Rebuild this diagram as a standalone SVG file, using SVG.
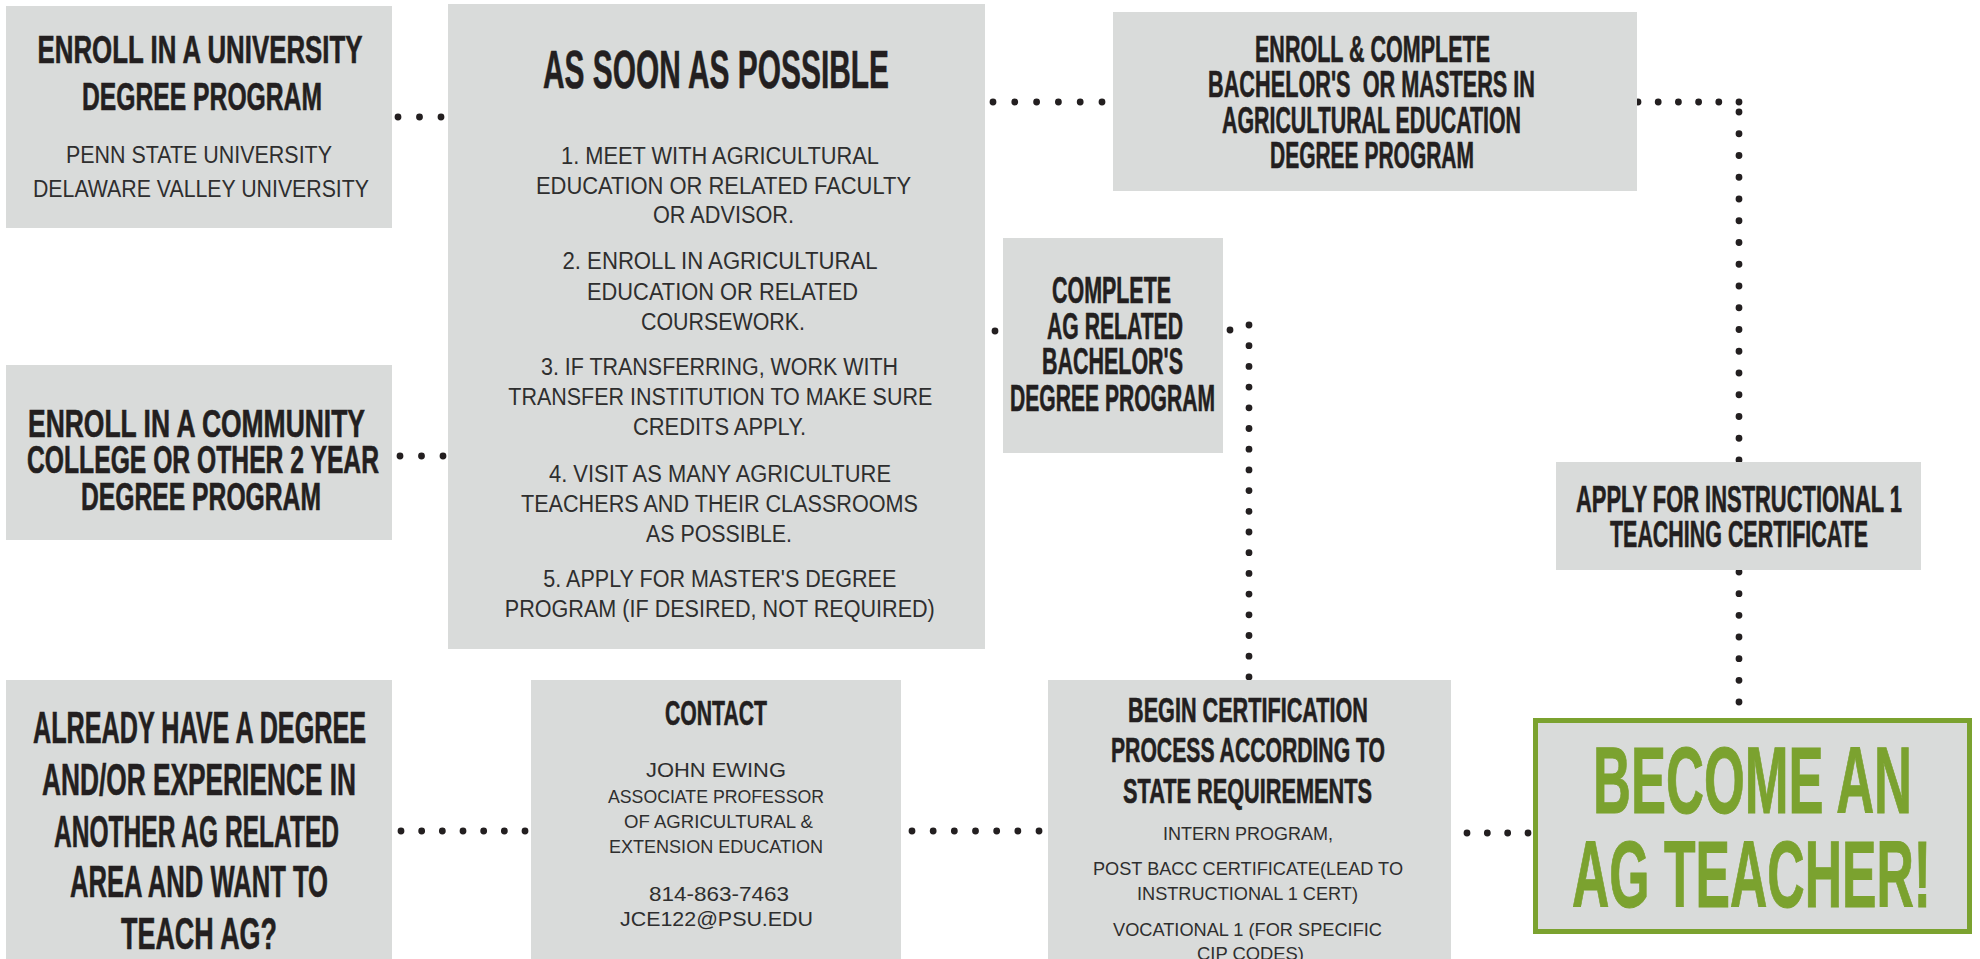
<svg xmlns="http://www.w3.org/2000/svg" width="1980" height="959" viewBox="0 0 1980 959">
<style>
.box{fill:#d9dbda}
.t{font-family:"Liberation Sans",Arial,sans-serif;font-weight:bold;fill:#231f20;stroke:#231f20;stroke-width:0.6;text-anchor:middle}
.b{font-family:"Liberation Sans",Arial,sans-serif;font-weight:normal;fill:#2e2e2e;text-anchor:middle}
.g{font-family:"Liberation Sans",Arial,sans-serif;font-weight:bold;fill:#7ba22f;stroke:#7ba22f;stroke-width:1;text-anchor:middle}
.dot{fill:none;stroke:#231f20;stroke-width:6.8;stroke-linecap:round}
</style>
<rect width="1980" height="959" fill="#ffffff"/>

<g id="connectors">
  <path class="dot" d="M398 117 H441.8" stroke-dasharray="0 21.5"/>
  <path class="dot" d="M400 456 H443.8" stroke-dasharray="0 21.5"/>
  <path class="dot" d="M993 102 H1102.8" stroke-dasharray="0 21.8"/>
  <path class="dot" d="M1638 102 H1739.8" stroke-dasharray="0 20.2"/>
  <path class="dot" d="M1739 112 V460.8" stroke-dasharray="0 21.75"/>
  <path class="dot" d="M1739 572 V702.8" stroke-dasharray="0 21.67"/>
  <path class="dot" d="M995 331 H995.01" stroke-dasharray="0 20"/>
  <path class="dot" d="M1230 330 H1230.01" stroke-dasharray="0 20"/>
  <path class="dot" d="M1249 325 V677.8" stroke-dasharray="0 20.7"/>
  <path class="dot" d="M401 831 H525.8" stroke-dasharray="0 20.67"/>
  <path class="dot" d="M912 831 H1039.8" stroke-dasharray="0 21.17"/>
  <path class="dot" d="M1467 833 H1528.8" stroke-dasharray="0 20.33"/>
</g>

<g id="university">
  <rect class="box" x="6" y="6" width="386" height="222"/>
  <text class="t" x="200" y="63" font-size="38" textLength="325" lengthAdjust="spacingAndGlyphs">ENROLL IN A UNIVERSITY</text>
  <text class="t" x="202" y="110" font-size="38" textLength="240" lengthAdjust="spacingAndGlyphs">DEGREE PROGRAM</text>
  <text class="b" x="199" y="163" font-size="23" textLength="266" lengthAdjust="spacingAndGlyphs">PENN STATE UNIVERSITY</text>
  <text class="b" x="201" y="197" font-size="23" textLength="336" lengthAdjust="spacingAndGlyphs">DELAWARE VALLEY UNIVERSITY</text>
</g>

<g id="asap">
  <rect class="box" x="448" y="4" width="537" height="645"/>
  <text class="t" x="716" y="88" font-size="53" textLength="346" lengthAdjust="spacingAndGlyphs">AS SOON AS POSSIBLE</text>
  <text class="b" x="720" y="164" font-size="23" textLength="318" lengthAdjust="spacingAndGlyphs">1. MEET WITH AGRICULTURAL</text>
  <text class="b" x="723.5" y="194" font-size="23" textLength="375" lengthAdjust="spacingAndGlyphs">EDUCATION OR RELATED FACULTY</text>
  <text class="b" x="723.5" y="223" font-size="23" textLength="141" lengthAdjust="spacingAndGlyphs">OR ADVISOR.</text>
  <text class="b" x="720" y="269" font-size="23" textLength="315" lengthAdjust="spacingAndGlyphs">2. ENROLL IN AGRICULTURAL</text>
  <text class="b" x="722.5" y="300" font-size="23" textLength="271" lengthAdjust="spacingAndGlyphs">EDUCATION OR RELATED</text>
  <text class="b" x="723" y="330" font-size="23" textLength="164" lengthAdjust="spacingAndGlyphs">COURSEWORK.</text>
  <text class="b" x="719.5" y="375" font-size="23" textLength="357" lengthAdjust="spacingAndGlyphs">3. IF TRANSFERRING, WORK WITH</text>
  <text class="b" x="720.3" y="405" font-size="23" textLength="424" lengthAdjust="spacingAndGlyphs">TRANSFER INSTITUTION TO MAKE SURE</text>
  <text class="b" x="719.5" y="435" font-size="23" textLength="173" lengthAdjust="spacingAndGlyphs">CREDITS APPLY.</text>
  <text class="b" x="720" y="482" font-size="23" textLength="342" lengthAdjust="spacingAndGlyphs">4. VISIT AS MANY AGRICULTURE</text>
  <text class="b" x="719.5" y="512" font-size="23" textLength="397" lengthAdjust="spacingAndGlyphs">TEACHERS AND THEIR CLASSROOMS</text>
  <text class="b" x="719" y="542" font-size="23" textLength="146" lengthAdjust="spacingAndGlyphs">AS POSSIBLE.</text>
  <text class="b" x="719.8" y="587" font-size="23" textLength="353" lengthAdjust="spacingAndGlyphs">5. APPLY FOR MASTER'S DEGREE</text>
  <text class="b" x="719.8" y="617" font-size="23" textLength="430" lengthAdjust="spacingAndGlyphs">PROGRAM (IF DESIRED, NOT REQUIRED)</text>
</g>

<g id="enroll-complete">
  <rect class="box" x="1113" y="12" width="524" height="179"/>
  <text class="t" x="1372.5" y="62" font-size="37" textLength="235" lengthAdjust="spacingAndGlyphs">ENROLL &amp; COMPLETE</text>
  <text class="t" x="1371.5" y="97" font-size="37" textLength="327" lengthAdjust="spacingAndGlyphs" style="white-space:pre">BACHELOR'S  OR MASTERS IN</text>
  <text class="t" x="1371.5" y="133" font-size="37" textLength="299" lengthAdjust="spacingAndGlyphs">AGRICULTURAL EDUCATION</text>
  <text class="t" x="1372" y="168" font-size="37" textLength="204" lengthAdjust="spacingAndGlyphs">DEGREE PROGRAM</text>
</g>

<g id="complete-ag">
  <rect class="box" x="1003" y="238" width="220" height="215"/>
  <text class="t" x="1111.5" y="303" font-size="37" textLength="119" lengthAdjust="spacingAndGlyphs">COMPLETE</text>
  <text class="t" x="1115" y="339" font-size="37" textLength="136" lengthAdjust="spacingAndGlyphs">AG RELATED</text>
  <text class="t" x="1112.5" y="374" font-size="37" textLength="141" lengthAdjust="spacingAndGlyphs">BACHELOR'S</text>
  <text class="t" x="1112.5" y="411" font-size="37" textLength="205" lengthAdjust="spacingAndGlyphs">DEGREE PROGRAM</text>
</g>

<g id="apply">
  <rect class="box" x="1556" y="462" width="365" height="108"/>
  <text class="t" x="1739" y="512" font-size="37" textLength="326" lengthAdjust="spacingAndGlyphs">APPLY FOR INSTRUCTIONAL 1</text>
  <text class="t" x="1739" y="547" font-size="37" textLength="258" lengthAdjust="spacingAndGlyphs">TEACHING CERTIFICATE</text>
</g>

<g id="community">
  <rect class="box" x="6" y="365" width="386" height="175"/>
  <text class="t" x="196.5" y="437" font-size="38" textLength="337" lengthAdjust="spacingAndGlyphs">ENROLL IN A COMMUNITY</text>
  <text class="t" x="203" y="473" font-size="38" textLength="352" lengthAdjust="spacingAndGlyphs">COLLEGE OR OTHER 2 YEAR</text>
  <text class="t" x="201" y="510" font-size="38" textLength="240" lengthAdjust="spacingAndGlyphs">DEGREE PROGRAM</text>
</g>

<g id="already">
  <rect class="box" x="6" y="680" width="386" height="279"/>
  <text class="t" x="199.5" y="743" font-size="43.5" textLength="333" lengthAdjust="spacingAndGlyphs">ALREADY HAVE A DEGREE</text>
  <text class="t" x="199" y="795" font-size="43.5" textLength="314" lengthAdjust="spacingAndGlyphs">AND/OR EXPERIENCE IN</text>
  <text class="t" x="196.5" y="847" font-size="43.5" textLength="285" lengthAdjust="spacingAndGlyphs">ANOTHER AG RELATED</text>
  <text class="t" x="199" y="897" font-size="43.5" textLength="258" lengthAdjust="spacingAndGlyphs">AREA AND WANT TO</text>
  <text class="t" x="199" y="949" font-size="43.5" textLength="156" lengthAdjust="spacingAndGlyphs">TEACH AG?</text>
</g>

<g id="contact">
  <rect class="box" x="531" y="680" width="370" height="279"/>
  <text class="t" x="716" y="725" font-size="35" textLength="102" lengthAdjust="spacingAndGlyphs">CONTACT</text>
  <text class="b" x="716" y="777" font-size="21" textLength="140" lengthAdjust="spacingAndGlyphs">JOHN EWING</text>
  <text class="b" x="716" y="803" font-size="19" textLength="216" lengthAdjust="spacingAndGlyphs">ASSOCIATE PROFESSOR</text>
  <text class="b" x="718.5" y="828" font-size="19" textLength="189" lengthAdjust="spacingAndGlyphs">OF AGRICULTURAL &amp;</text>
  <text class="b" x="716" y="853" font-size="19" textLength="214" lengthAdjust="spacingAndGlyphs">EXTENSION EDUCATION</text>
  <text class="b" x="719" y="901" font-size="21" textLength="140" lengthAdjust="spacingAndGlyphs">814-863-7463</text>
  <text class="b" x="716.5" y="926" font-size="21" textLength="193" lengthAdjust="spacingAndGlyphs">JCE122@PSU.EDU</text>
</g>

<g id="certification">
  <rect class="box" x="1048" y="680" width="403" height="279"/>
  <text class="t" x="1248" y="722" font-size="35" textLength="240" lengthAdjust="spacingAndGlyphs">BEGIN CERTIFICATION</text>
  <text class="t" x="1248" y="762" font-size="35" textLength="274" lengthAdjust="spacingAndGlyphs">PROCESS ACCORDING TO</text>
  <text class="t" x="1247.5" y="803" font-size="35" textLength="249" lengthAdjust="spacingAndGlyphs">STATE REQUIREMENTS</text>
  <text class="b" x="1248" y="840" font-size="18.5" textLength="170" lengthAdjust="spacingAndGlyphs">INTERN PROGRAM,</text>
  <text class="b" x="1248" y="875" font-size="18.5" textLength="310" lengthAdjust="spacingAndGlyphs">POST BACC CERTIFICATE(LEAD TO</text>
  <text class="b" x="1247.5" y="900" font-size="18.5" textLength="221" lengthAdjust="spacingAndGlyphs">INSTRUCTIONAL 1 CERT)</text>
  <text class="b" x="1247.5" y="936" font-size="18.5" textLength="269" lengthAdjust="spacingAndGlyphs">VOCATIONAL 1 (FOR SPECIFIC</text>
  <text class="b" x="1250.5" y="960" font-size="18.5" textLength="107" lengthAdjust="spacingAndGlyphs">CIP CODES)</text>
</g>

<g id="become-teacher">
  <rect x="1535.5" y="720.5" width="434" height="211" fill="#d9dbda" stroke="#7ba22f" stroke-width="5"/>
  <text class="g" x="1752.5" y="813" font-size="95" textLength="319" lengthAdjust="spacingAndGlyphs">BECOME AN</text>
  <text class="g" x="1751.5" y="907" font-size="95" textLength="359" lengthAdjust="spacingAndGlyphs">AG TEACHER!</text>
</g>
</svg>
